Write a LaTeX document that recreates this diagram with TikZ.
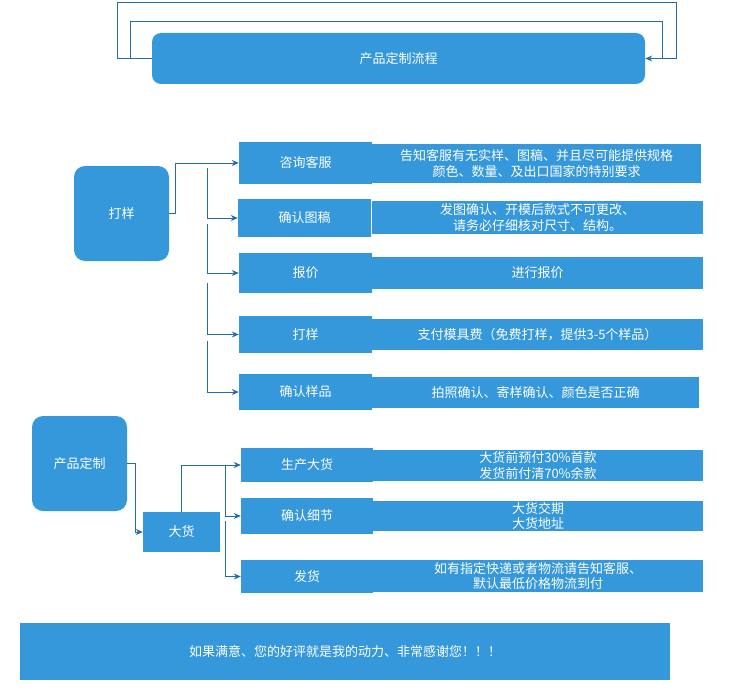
\documentclass[tikz,border=0pt]{standalone}
\usepackage{fontspec}
\setmainfont{Noto Sans CJK SC}
\usetikzlibrary{arrows.meta}
\definecolor{boxblue}{RGB}{52,152,219}
\definecolor{linkblue}{RGB}{36,108,168}

\begin{document}
\begin{tikzpicture}[x=1pt, y=-1pt, >={Stealth[length=7pt, width=6pt]},
    box/.style={fill=boxblue, text=white, inner sep=0pt, align=center,
      font=\fontsize{13}{15.5}\selectfont},
    link/.style={draw=linkblue, line width=1pt}]
  \useasboundingbox (0,0) rectangle (741,690);

  % title and its loops
  \node[box, rounded corners=9pt, minimum width=493pt, minimum height=51pt] (title) at (398.5,58.5) {产品定制流程};
  \draw[link, ->] (title.west) -| (117,3) -| (676,58.5) -- (title.east);
  \draw[link] ([xshift=-21pt]title.west) |- (662,22) -- (662,58.5);

  % sample
  \node[box, rounded corners=11pt, minimum width=95pt, minimum height=95pt] (dayang) at (121.5,213.5) {打样};

  \node[box, minimum width=329pt, minimum height=39pt] (zixuninfo) at (536.5,163.5) {告知客服有无实样、图稿、并且尽可能提供规格\\颜色、数量、及出口国家的特别要求};
  \node[box, minimum width=331pt, minimum height=33pt] (tugaoinfo) at (537.5,217.5) {发图确认、开模后款式不可更改、\\请务必仔细核对尺寸、结构。};
  \node[box, minimum width=331pt, minimum height=32pt] (baojiainfo) at (537.5,273) {进行报价};
  \node[box, minimum width=331pt, minimum height=31pt] (muju) at (537.5,334.5) {支付模具费（免费打样，提供3-5个样品）};
  \node[box, minimum width=327pt, minimum height=31pt] (yangpininfo) at (535.5,392.5) {拍照确认、寄样确认、颜色是否正确};

  \node[box, minimum width=133pt, minimum height=42pt] (zixun) at (305.5,163) {咨询客服};
  \node[box, minimum width=133pt, minimum height=38pt] (tugao) at (304.5,218) {确认图稿};
  \node[box, minimum width=133pt, minimum height=40pt] (baojia) at (305.5,273) {报价};
  \node[box, minimum width=133pt, minimum height=37pt] (dayangstep) at (305.5,334.5) {打样};
  \node[box, minimum width=133pt, minimum height=36pt] (yangpin) at (305.5,392) {确认样品};

  \draw[link, ->] (dayang.east) -- ++(6,0) |- (zixun.west);
  \foreach \y/\n in {168/tugao, 224/baojia, 283/dayangstep, 341/yangpin} {
    \coordinate (s-\n) at (207,\y);
    \draw[link, ->] (s-\n) |- (\n.west);
  }

  % bulk order
  \node[box, rounded corners=11pt, minimum width=95pt, minimum height=95pt] (dingzhi) at (79.5,463.5) {产品定制};
  \node[box, minimum width=77pt, minimum height=40pt] (dahuo) at (181.5,532) {大货};

  \node[box, minimum width=330pt, minimum height=31pt] (fukuan) at (538,465.5) {大货前预付30\%首款\\发货前付清70\%余款};
  \node[box, minimum width=330pt, minimum height=30pt] (jiaoqi) at (538,516) {大货交期\\大货地址};
  \node[box, minimum width=330pt, minimum height=32pt] (wuliu) at (538,576) {如有指定快递或者物流请告知客服、\\默认最低价格物流到付};

  \node[box, minimum width=132pt, minimum height=34pt] (shengchan) at (307,465) {生产大货};
  \node[box, minimum width=132pt, minimum height=36pt] (xijie) at (307,516) {确认细节};
  \node[box, minimum width=132pt, minimum height=33pt] (fahuo) at (307,576.5) {发货};

  \draw[link, ->] (dingzhi.east) -- ++(8,0) |- (dahuo.west);
  \draw[link, ->] (dahuo.north) |- (shengchan.west);
  \foreach \y/\n in {465/xijie, 521/fahuo} {
    \coordinate (t-\n) at (225,\y);
    \draw[link, ->] (t-\n) |- (\n.west);
  }

  % thanks
  \node[box, minimum width=650pt, minimum height=57pt] (thanks) at (345,651.5) {如果满意、您的好评就是我的动力、非常感谢您！！！};
\end{tikzpicture}
\end{document}
